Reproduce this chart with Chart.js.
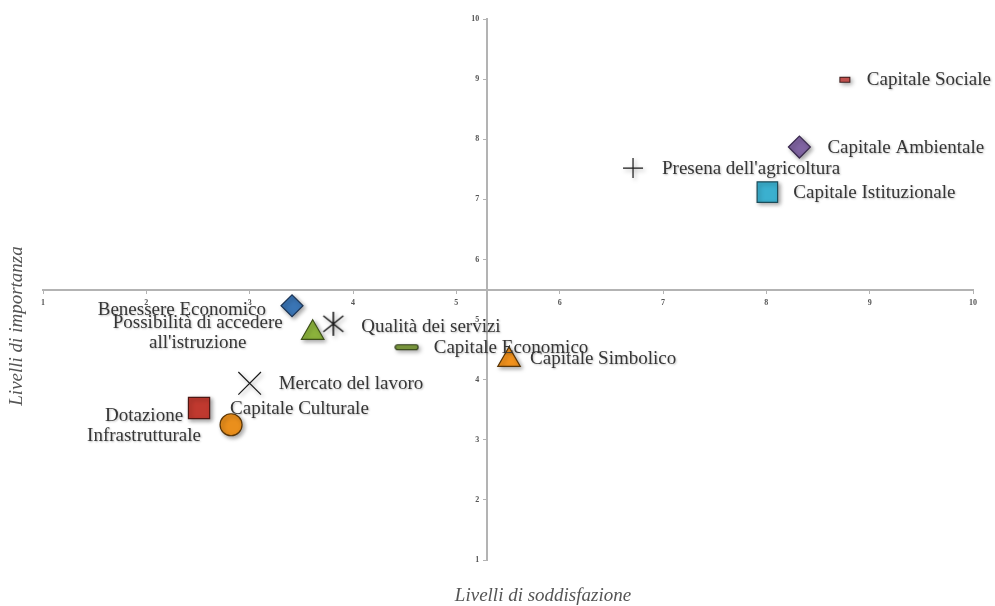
<!DOCTYPE html>
<html>
<head>
<meta charset="utf-8">
<script src="https://cdn.jsdelivr.net/npm/chart.js@4.4.0/dist/chart.umd.min.js"></script>
<style>
  html,body{margin:0;padding:0;background:#fff;}
  #wrap{position:relative;width:995px;height:606px;}
</style>
</head>
<body>
<div id="wrap"><canvas id="ch"></canvas></div>
<script>
// ── dati ──────────────────────────────────────────────
const nomi=['Capitale Sociale','Capitale Ambientale',"Presena dell'agricoltura",'Capitale Istituzionale',
  'Benessere Economico',"Possibilità di accedere\nall'istruzione",'Qualità dei servizi','Capitale Economico',
  'Capitale Simbolico','Mercato del lavoro','Dotazione\nInfrastrutturale','Capitale Culturale'];
const soddisfazione=[8.76,8.32,6.71,8.01,3.41,3.61,3.81,4.52,5.51,3.00,2.51,2.82];
const importanza=[8.99,7.87,7.52,7.12,5.23,4.78,4.93,4.54,4.33,3.94,3.53,3.25];
const tickVals=[1,2,3,4,5,6,7,8,9,10];
const incrocioX=5.3, incrocioY=5.5;

// ── marker personalizzati ─────────────────────────────
function mk(w,h,fn){const c=document.createElement('canvas');c.width=w;c.height=h;fn(c.getContext('2d'));return c;}
const mSociale=mk(13,8,g=>{g.fillStyle='#c0504d';g.strokeStyle='#3b1a1a';g.lineWidth=1;g.fillRect(1,1,11,6);g.strokeRect(1.5,1.5,10,5);});
const mEconomico=mk(25,8,g=>{g.fillStyle='#77933c';g.strokeStyle='#2d3a17';g.lineWidth=1.2;g.beginPath();g.roundRect(1,1.5,23,5,2.5);g.fill();g.stroke();});
const mAsterisco=mk(26,26,g=>{g.strokeStyle='#1a1a1a';g.lineWidth=1.6;g.beginPath();
  g.moveTo(13,1);g.lineTo(13,25);g.moveTo(3,5);g.lineTo(23,21);g.moveTo(23,5);g.lineTo(3,21);g.stroke();});

const stili=[mSociale,'rectRot','cross','rect','rectRot','triangle',mAsterisco,mEconomico,'triangle','crossRot','rect','circle'];
const riempimenti=['#c0504d','#8064a2','#222','#3bb0cf','#3a75b5','#8cb33c','#222','#77933c','#f2921d','#222','#c0392f','#ea8f1c'];
const bordi=['#3b1a1a','#3a2a4e','#1a1a1a','#1c4b58','#1d3555','#3d5019','#1a1a1a','#2d3a17','#5a3608','#1a1a1a','#4d1713','#5a3608'];
const raggi=[6,11,10,14.5,11,13,12,12,13,16,15,11];
// posizione etichette: [dx, dy, allineamento]
const posEtichette=[[22,0,'left'],[28,1,'left'],[29,1,'left'],[26,1,'left'],[-26,4,'right'],[-115,0,'center'],
  [28,3,'left'],[27,1,'left'],[21,-1,'left'],[29,1,'left'],[-55,18,'center'],[-1,-16,'left']];

const etichettePlugin={
  id:'etichette',
  beforeDatasetsDraw(c){const g=c.ctx;g.save();g.shadowColor='rgba(0,0,0,0.35)';g.shadowBlur=4;g.shadowOffsetX=2;g.shadowOffsetY=2;},
  afterDatasetsDraw(c){
    const g=c.ctx;g.restore();
    const pts=c.getDatasetMeta(0).data;
    g.save();
    g.font='19px "Liberation Serif"';g.fillStyle='#363636';g.textBaseline='middle';
    g.shadowColor='rgba(0,0,0,0.25)';g.shadowBlur=2;g.shadowOffsetX=1;g.shadowOffsetY=1;
    const lh=20;
    nomi.forEach((n,i)=>{
      const [dx,dy,al]=posEtichette[i];const righe=n.split('\n');
      g.textAlign=al;
      const y0=pts[i].y+dy-(righe.length-1)*lh/2;
      righe.forEach((r,k)=>g.fillText(r,pts[i].x+dx,y0+k*lh));
    });
    g.restore();
  },
  afterDraw(c){
    const g=c.ctx;g.save();
    g.font='italic 19px "Liberation Serif"';g.fillStyle='#555';g.textAlign='center';g.textBaseline='middle';
    g.fillText('Livelli di soddisfazione',543,596);
    g.translate(17,326);g.rotate(-Math.PI/2);g.fillText('Livelli di importanza',0,0);
    g.restore();
  }
};

const assi=(pos,spazio)=>({
  type:'linear',min:1,max:10,position:pos,
  afterBuildTicks:s=>{s.ticks=tickVals.map(v=>({value:v}));},
  grid:{drawOnChartArea:false,drawTicks:true,tickLength:3,color:'#b3b3b3'},
  border:{color:'#b3b3b3',width:2},
  ticks:{font:{family:'Liberation Serif',size:8,weight:'bold'},color:'#555',padding:6,
    callback:v=>v+spazio}
});

new Chart(document.getElementById('ch'),{
  type:'scatter',
  data:{datasets:[{
    data:soddisfazione.map((x,i)=>({x,y:importanza[i]})),
    pointStyle:stili,backgroundColor:riempimenti,borderColor:bordi,pointRadius:raggi,pointHoverRadius:raggi,
    borderWidth:1.2
  }]},
  options:{
    responsive:true,maintainAspectRatio:false,animation:false,
    layout:{padding:{left:43,top:19,right:22,bottom:46}},
    plugins:{legend:{display:false},tooltip:{enabled:false}},
    scales:{
      x:assi({y:incrocioY},''),
      y:assi({x:incrocioX},'\u2002\u2002')
    }
  },
  plugins:[etichettePlugin]
});
</script>
</body>
</html>
